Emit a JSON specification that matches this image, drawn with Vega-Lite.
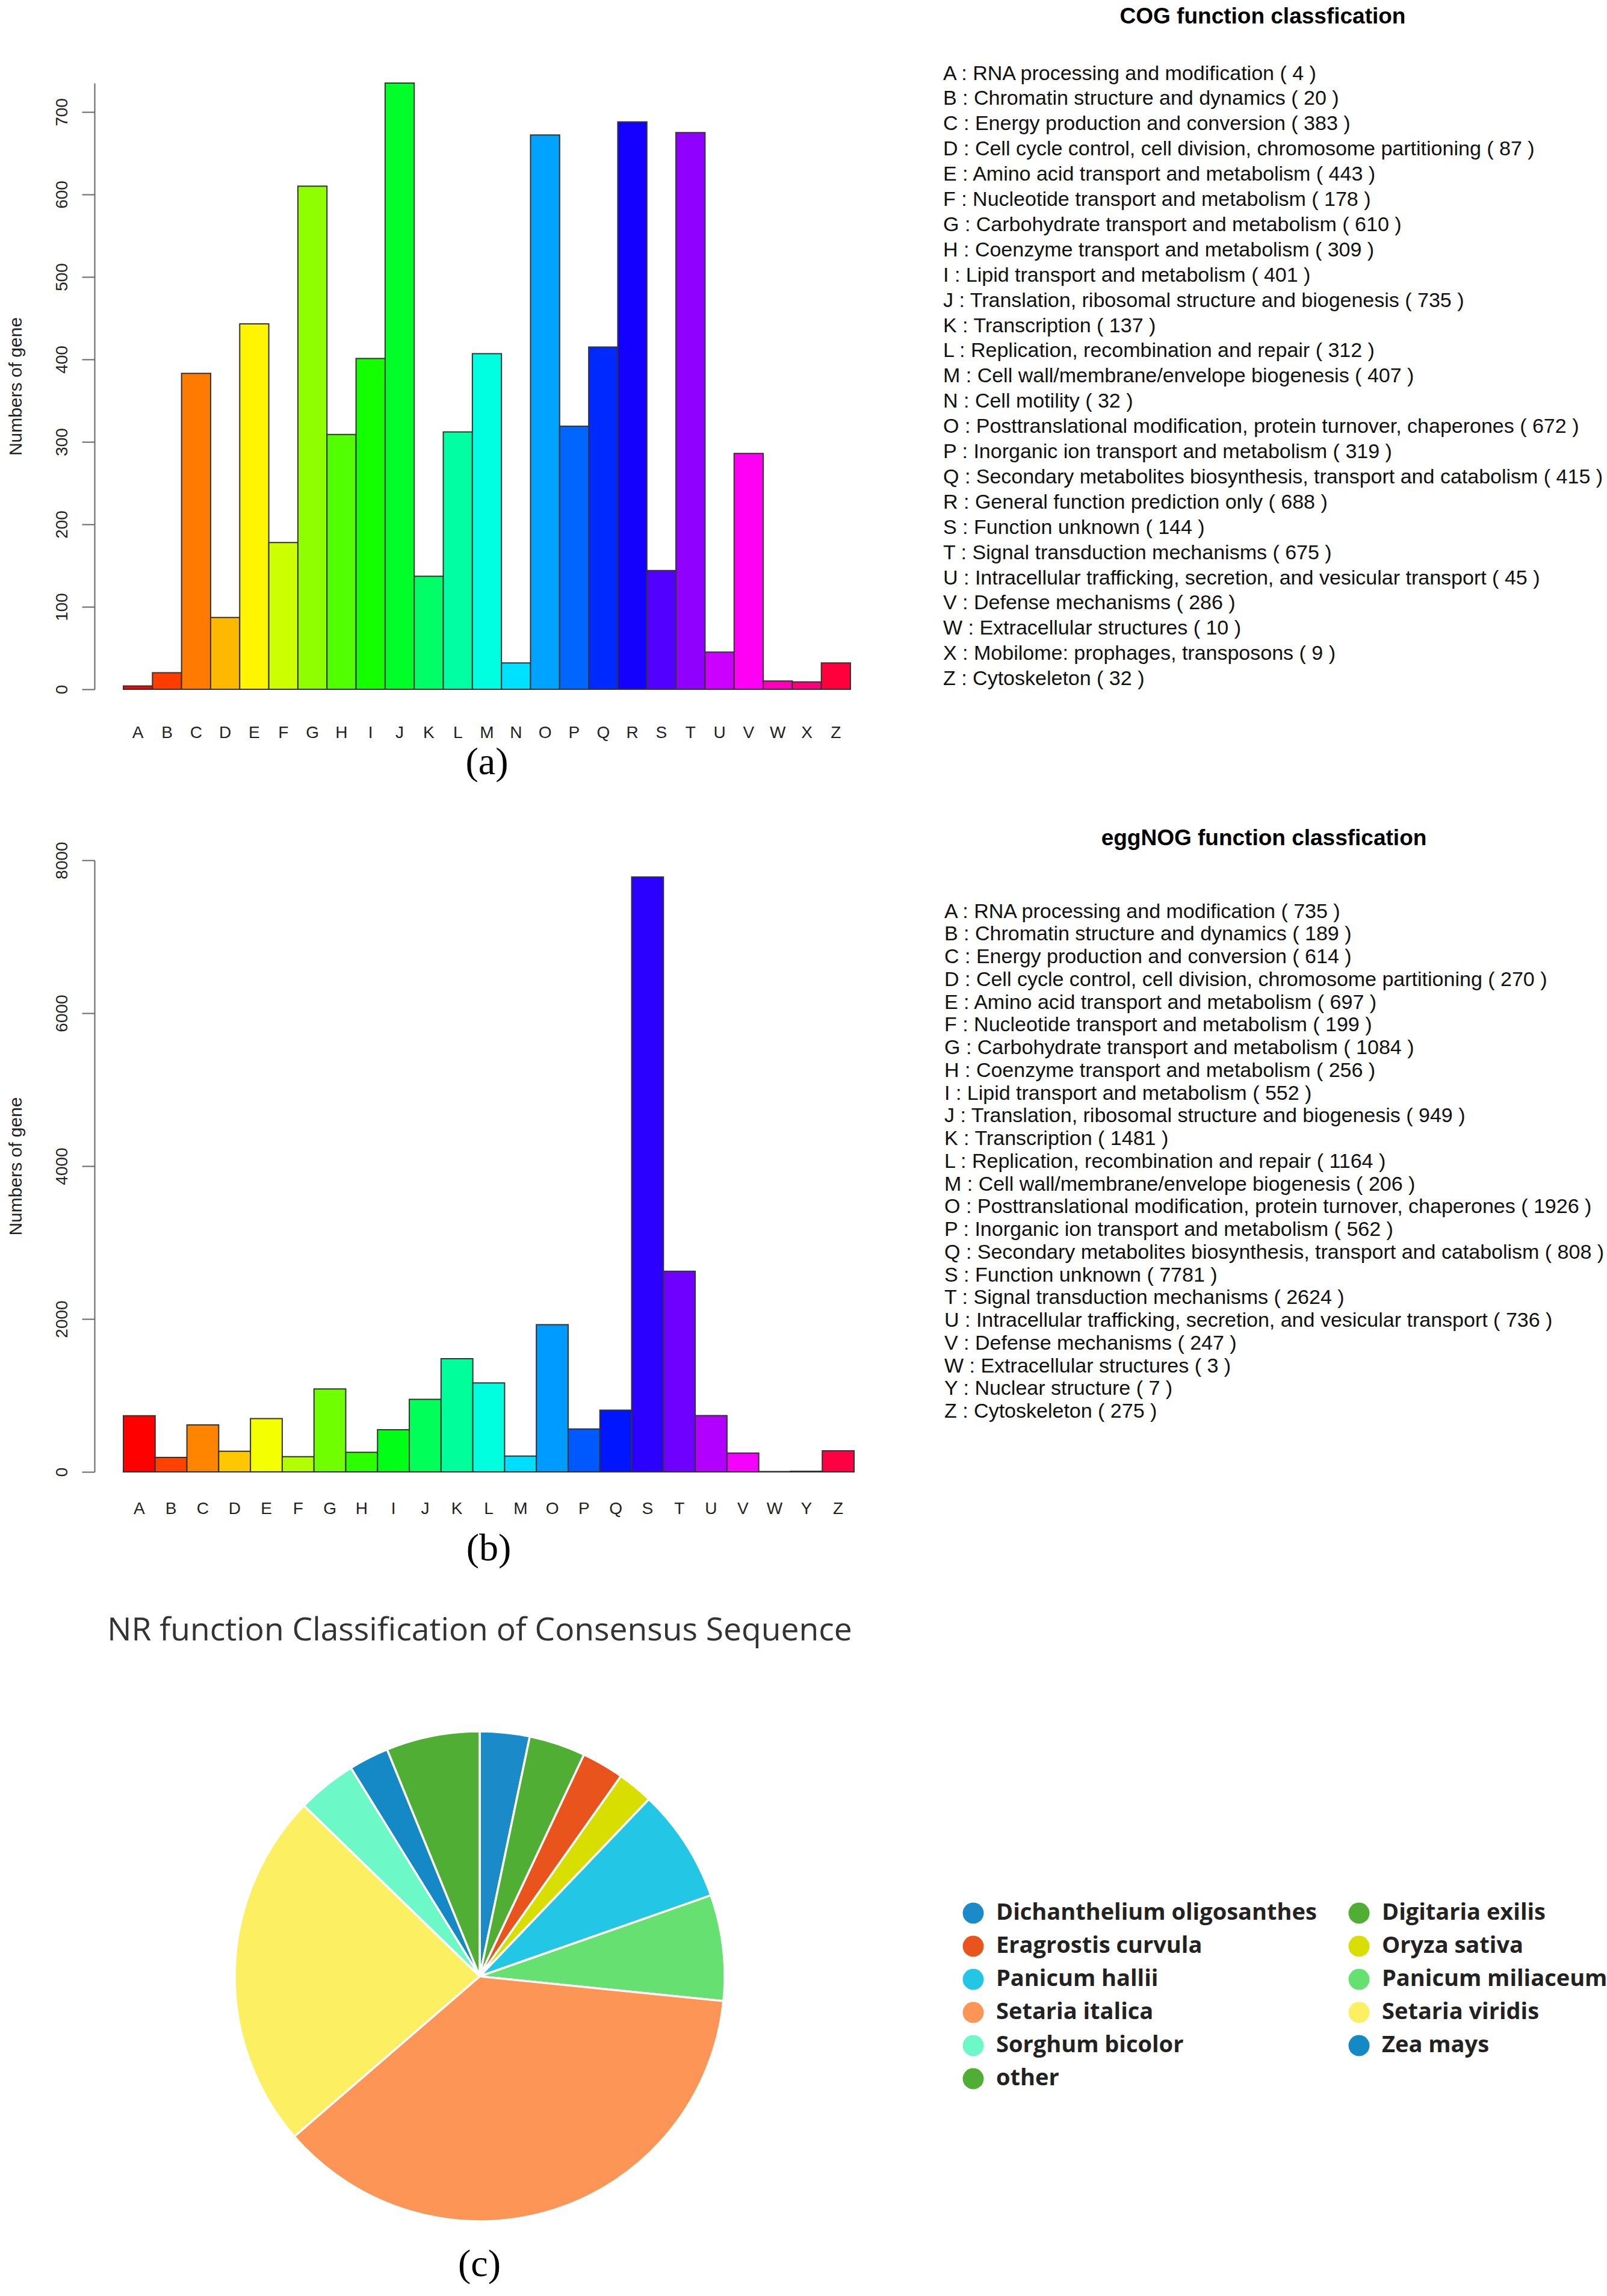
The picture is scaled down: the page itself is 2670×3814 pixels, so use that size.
{
  "$schema": "https://vega.github.io/schema/vega-lite/v6.json",
  "background": "white",
  "padding": {"left": 11, "top": 10, "right": 0, "bottom": 0},
  "title": {"text": "(c)", "orient": "bottom", "anchor": "start", "frame": "bounds", "dx": 750, "offset": 33, "font": "Liberation Serif", "fontSize": 64, "fontWeight": "normal", "color": "#000"},
  "spacing": 76,
  "resolve": {"scale": {"color": "independent"}, "legend": {"color": "independent"}},
  "vconcat": [
    {
      "width": 1208,
      "height": 1007,
      "data": {"values": [
        {"code": "A", "n": 4, "label": "A : RNA processing and modification ( 4 )"},
        {"code": "B", "n": 20, "label": "B : Chromatin structure and dynamics ( 20 )"},
        {"code": "C", "n": 383, "label": "C : Energy production and conversion ( 383 )"},
        {"code": "D", "n": 87, "label": "D : Cell cycle control, cell division, chromosome partitioning ( 87 )"},
        {"code": "E", "n": 443, "label": "E : Amino acid transport and metabolism ( 443 )"},
        {"code": "F", "n": 178, "label": "F : Nucleotide transport and metabolism ( 178 )"},
        {"code": "G", "n": 610, "label": "G : Carbohydrate transport and metabolism ( 610 )"},
        {"code": "H", "n": 309, "label": "H : Coenzyme transport and metabolism ( 309 )"},
        {"code": "I", "n": 401, "label": "I : Lipid transport and metabolism ( 401 )"},
        {"code": "J", "n": 735, "label": "J : Translation, ribosomal structure and biogenesis ( 735 )"},
        {"code": "K", "n": 137, "label": "K : Transcription ( 137 )"},
        {"code": "L", "n": 312, "label": "L : Replication, recombination and repair ( 312 )"},
        {"code": "M", "n": 407, "label": "M : Cell wall/membrane/envelope biogenesis ( 407 )"},
        {"code": "N", "n": 32, "label": "N : Cell motility ( 32 )"},
        {"code": "O", "n": 672, "label": "O : Posttranslational modification, protein turnover, chaperones ( 672 )"},
        {"code": "P", "n": 319, "label": "P : Inorganic ion transport and metabolism ( 319 )"},
        {"code": "Q", "n": 415, "label": "Q : Secondary metabolites biosynthesis, transport and catabolism ( 415 )"},
        {"code": "R", "n": 688, "label": "R : General function prediction only ( 688 )"},
        {"code": "S", "n": 144, "label": "S : Function unknown ( 144 )"},
        {"code": "T", "n": 675, "label": "T : Signal transduction mechanisms ( 675 )"},
        {"code": "U", "n": 45, "label": "U : Intracellular trafficking, secretion, and vesicular transport ( 45 )"},
        {"code": "V", "n": 286, "label": "V : Defense mechanisms ( 286 )"},
        {"code": "W", "n": 10, "label": "W : Extracellular structures ( 10 )"},
        {"code": "X", "n": 9, "label": "X : Mobilome: prophages, transposons ( 9 )"},
        {"code": "Z", "n": 32, "label": "Z : Cytoskeleton ( 32 )"}
      ]},
      "title": {"text": "(a)", "orient": "bottom", "anchor": "middle", "frame": "group", "offset": 4, "font": "Liberation Serif", "fontSize": 64, "fontWeight": "normal", "color": "#000"},
      "mark": {"type": "bar", "stroke": "#333", "strokeWidth": 2},
      "encoding": {
        "x": {"field": "code", "type": "nominal", "sort": null,
          "scale": {"paddingInner": 0, "paddingOuter": 0},
          "axis": {"title": null, "labelAngle": 0, "domain": false, "ticks": false, "tickSize": 0, "labelPadding": 58, "labelFont": "Liberation Sans", "labelFontSize": 28, "labelColor": "#222"}},
        "y": {"field": "n", "type": "quantitative",
          "scale": {"domain": [0, 735], "nice": false, "zero": true},
          "axis": {"title": "Numbers of gene", "values": [0, 100, 200, 300, 400, 500, 600, 700], "format": "d", "offset": 48, "tickSize": 21, "tickWidth": 2, "tickColor": "#666", "domainColor": "#666", "domainWidth": 2, "labelAngle": 270, "labelAlign": "center", "labelBaseline": "bottom", "labelPadding": 19, "labelFont": "Liberation Sans", "labelFontSize": 28, "labelColor": "#222", "titleFont": "Liberation Sans", "titleFontSize": 30, "titleFontWeight": "normal", "titleColor": "#222", "titlePadding": 48}},
        "color": {"field": "label", "type": "nominal",
          "scale": {"range": ["#FF0000","#FF3D00","#FF7A00","#FFB800","#FFF500","#CCFF00","#8FFF00","#52FF00","#14FF00","#00FF29","#00FF66","#00FFA3","#00FFE0","#00E0FF","#00A3FF","#0066FF","#0029FF","#1400FF","#5200FF","#8F00FF","#CC00FF","#FF00F5","#FF00B8","#FF007A","#FF003D"]},
          "legend": {"title": "COG function classfication", "orient": "none", "legendX": 1328, "legendY": -128, "padding": 0, "titleAnchor": "middle", "titleFont": "Liberation Sans", "titleFontSize": 37, "titleFontWeight": "bold", "titleColor": "#000", "titlePadding": 58.5, "titleLimit": 3000, "labelFont": "Liberation Sans", "labelFontSize": 34, "labelColor": "#111", "labelLimit": 3000, "labelOffset": 0, "symbolSize": 0, "symbolOpacity": 0, "symbolStrokeWidth": 0, "rowPadding": 7.9}}
      }
    },
    {
      "width": 1214,
      "height": 1016,
      "data": {"values": [
        {"code": "A", "n": 735, "label": "A : RNA processing and modification ( 735 )"},
        {"code": "B", "n": 189, "label": "B : Chromatin structure and dynamics ( 189 )"},
        {"code": "C", "n": 614, "label": "C : Energy production and conversion ( 614 )"},
        {"code": "D", "n": 270, "label": "D : Cell cycle control, cell division, chromosome partitioning ( 270 )"},
        {"code": "E", "n": 697, "label": "E : Amino acid transport and metabolism ( 697 )"},
        {"code": "F", "n": 199, "label": "F : Nucleotide transport and metabolism ( 199 )"},
        {"code": "G", "n": 1084, "label": "G : Carbohydrate transport and metabolism ( 1084 )"},
        {"code": "H", "n": 256, "label": "H : Coenzyme transport and metabolism ( 256 )"},
        {"code": "I", "n": 552, "label": "I : Lipid transport and metabolism ( 552 )"},
        {"code": "J", "n": 949, "label": "J : Translation, ribosomal structure and biogenesis ( 949 )"},
        {"code": "K", "n": 1481, "label": "K : Transcription ( 1481 )"},
        {"code": "L", "n": 1164, "label": "L : Replication, recombination and repair ( 1164 )"},
        {"code": "M", "n": 206, "label": "M : Cell wall/membrane/envelope biogenesis ( 206 )"},
        {"code": "O", "n": 1926, "label": "O : Posttranslational modification, protein turnover, chaperones ( 1926 )"},
        {"code": "P", "n": 562, "label": "P : Inorganic ion transport and metabolism ( 562 )"},
        {"code": "Q", "n": 808, "label": "Q : Secondary metabolites biosynthesis, transport and catabolism ( 808 )"},
        {"code": "S", "n": 7781, "label": "S : Function unknown ( 7781 )"},
        {"code": "T", "n": 2624, "label": "T : Signal transduction mechanisms ( 2624 )"},
        {"code": "U", "n": 736, "label": "U : Intracellular trafficking, secretion, and vesicular transport ( 736 )"},
        {"code": "V", "n": 247, "label": "V : Defense mechanisms ( 247 )"},
        {"code": "W", "n": 3, "label": "W : Extracellular structures ( 3 )"},
        {"code": "Y", "n": 7, "label": "Y : Nuclear structure ( 7 )"},
        {"code": "Z", "n": 275, "label": "Z : Cytoskeleton ( 275 )"}
      ]},
      "title": {"text": "(b)", "orient": "bottom", "anchor": "middle", "frame": "group", "offset": 21, "font": "Liberation Serif", "fontSize": 64, "fontWeight": "normal", "color": "#000"},
      "mark": {"type": "bar", "stroke": "#333", "strokeWidth": 2},
      "encoding": {
        "x": {"field": "code", "type": "nominal", "sort": null,
          "scale": {"paddingInner": 0, "paddingOuter": 0},
          "axis": {"title": null, "labelAngle": 0, "domain": false, "ticks": false, "tickSize": 0, "labelPadding": 47, "labelFont": "Liberation Sans", "labelFontSize": 28, "labelColor": "#222"}},
        "y": {"field": "n", "type": "quantitative",
          "scale": {"domain": [0, 8000], "nice": false, "zero": true},
          "axis": {"title": "Numbers of gene", "values": [0, 2000, 4000, 6000, 8000], "format": "d", "offset": 48, "tickSize": 21, "tickWidth": 2, "tickColor": "#666", "domainColor": "#666", "domainWidth": 2, "labelAngle": 270, "labelAlign": "center", "labelBaseline": "bottom", "labelPadding": 19, "labelFont": "Liberation Sans", "labelFontSize": 28, "labelColor": "#222", "titleFont": "Liberation Sans", "titleFontSize": 30, "titleFontWeight": "normal", "titleColor": "#222", "titlePadding": 48}},
        "color": {"field": "label", "type": "nominal",
          "scale": {"range": ["#FF0000","#FF4200","#FF8500","#FFC700","#F4FF00","#B1FF00","#6FFF00","#2CFF00","#00FF16","#00FF59","#00FF9B","#00FFDE","#00DEFF","#009BFF","#0059FF","#0016FF","#2C00FF","#6F00FF","#B100FF","#F400FF","#FF00C8","#FF0085","#FF0043"]},
          "legend": {"title": "eggNOG function classfication", "orient": "none", "legendX": 1330, "legendY": -54, "padding": 0, "titleAnchor": "middle", "titleFont": "Liberation Sans", "titleFontSize": 37, "titleFontWeight": "bold", "titleColor": "#000", "titlePadding": 85.5, "titleLimit": 3000, "labelFont": "Liberation Sans", "labelFontSize": 34, "labelColor": "#111", "labelLimit": 3000, "labelOffset": 0, "symbolSize": 0, "symbolOpacity": 0, "symbolStrokeWidth": 0, "rowPadding": 3.75}}
      }
    },
    {
      "width": 1184,
      "height": 814,
      "data": {"values": [
        {"species": "Dichanthelium oligosanthes", "value": 3.28},
        {"species": "Digitaria exilis", "value": 3.72},
        {"species": "Eragrostis curvula", "value": 2.78},
        {"species": "Oryza sativa", "value": 2.36},
        {"species": "Panicum hallii", "value": 7.5},
        {"species": "Panicum miliaceum", "value": 6.97},
        {"species": "Setaria italica", "value": 37.06},
        {"species": "Setaria viridis", "value": 23.61},
        {"species": "Sorghum bicolor", "value": 3.92},
        {"species": "Zea mays", "value": 2.64},
        {"species": "other", "value": 6.17}
      ]},
      "title": {"text": "NR function Classification of Consensus Sequence", "anchor": "middle", "frame": "group", "offset": 133, "font": "Open Sans", "fontSize": 53.4, "fontWeight": "normal", "color": "#333", "limit": 3000},
      "mark": {"type": "arc", "stroke": "#ffffff", "strokeWidth": 3.5},
      "encoding": {
        "theta": {"field": "value", "type": "quantitative", "stack": true},
        "color": {"field": "species", "type": "nominal",
          "scale": {"domain": ["Dichanthelium oligosanthes", "Digitaria exilis", "Eragrostis curvula", "Oryza sativa", "Panicum hallii", "Panicum miliaceum", "Setaria italica", "Setaria viridis", "Sorghum bicolor", "Zea mays", "other"],
                    "range": ["#1a8bc8", "#4fae33", "#e9541d", "#d8df00", "#23c6e4", "#66e070", "#fd9556", "#fdef62", "#6df8c8", "#1489c6", "#4fae33"]},
          "legend": {"title": null, "orient": "none", "legendX": 1393, "legendY": 283, "padding": 0, "direction": "horizontal", "columns": 2, "symbolType": "circle", "symbolSize": 1225, "symbolStrokeWidth": 0, "symbolOpacity": 1, "labelFont": "Open Sans", "labelFontSize": 38, "labelFontWeight": "bold", "labelColor": "#222", "labelOffset": 19, "labelLimit": 3000, "rowPadding": 17, "columnPadding": 51}}
      }
    }
  ],
  "config": {
    "view": {"stroke": null},
    "font": "Liberation Sans",
    "axis": {"grid": false}
  }
}
